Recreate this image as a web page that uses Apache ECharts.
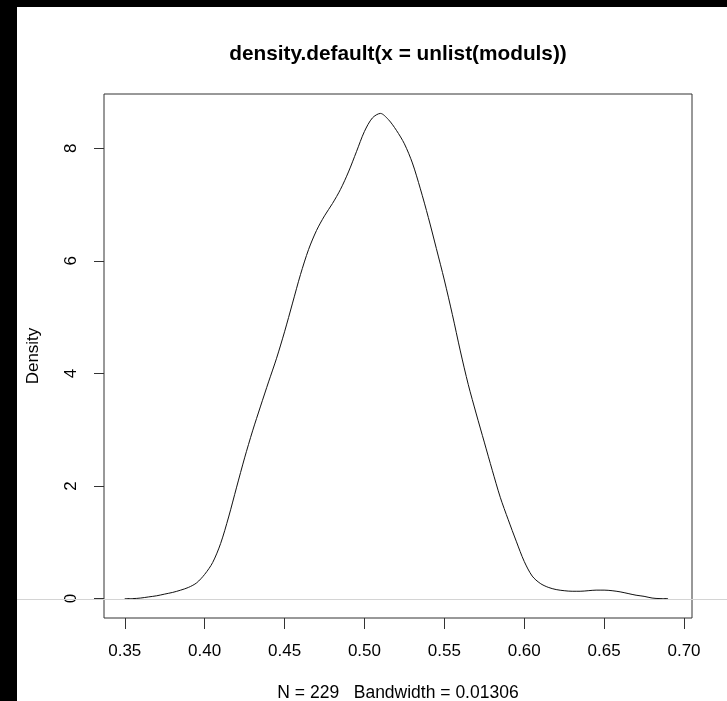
<!DOCTYPE html>
<html>
<head>
<meta charset="utf-8">
<title>density.default(x = unlist(moduls))</title>
<script src="https://cdn.jsdelivr.net/npm/echarts@6/dist/echarts.min.js"></script>
<style>
  html, body { margin: 0; padding: 0; background: #fff; }
  #main { width: 727px; height: 701px; }
</style>
</head>
<body>
<div id="main"></div>
<script>
// density estimate (x = modulus, y = density)
var xs = [0.350, 0.355, 0.360, 0.365, 0.370, 0.375, 0.380, 0.385, 0.390, 0.395,
          0.400, 0.405, 0.410, 0.415, 0.420, 0.425, 0.430, 0.435, 0.440, 0.445,
          0.450, 0.455, 0.460, 0.465, 0.470, 0.475, 0.480, 0.485, 0.490, 0.495,
          0.500, 0.505, 0.510, 0.515, 0.520, 0.525, 0.530, 0.535, 0.540, 0.545,
          0.550, 0.555, 0.560, 0.565, 0.570, 0.575, 0.580, 0.585, 0.590, 0.595,
          0.600, 0.605, 0.610, 0.615, 0.620, 0.625, 0.630, 0.635, 0.640, 0.645,
          0.650, 0.655, 0.660, 0.665, 0.670, 0.675, 0.680, 0.685, 0.690];
var density = [0.00, 0.00, 0.01, 0.03, 0.05, 0.08, 0.11, 0.15, 0.20, 0.28,
               0.43, 0.64, 0.98, 1.45, 1.98, 2.50, 2.98, 3.42, 3.85, 4.27,
               4.74, 5.25, 5.76, 6.20, 6.54, 6.80, 7.02, 7.27, 7.58, 7.94,
               8.30, 8.54, 8.62, 8.51, 8.32, 8.08, 7.74, 7.28, 6.77, 6.22,
               5.66, 5.05, 4.40, 3.80, 3.28, 2.78, 2.28, 1.80, 1.40, 1.02,
               0.66, 0.40, 0.27, 0.20, 0.16, 0.14, 0.13, 0.13, 0.14, 0.15,
               0.15, 0.14, 0.12, 0.09, 0.06, 0.04, 0.01, 0.00, 0.00];
var xTicks = [0.35, 0.40, 0.45, 0.50, 0.55, 0.60, 0.65, 0.70];
var yTicks = [0, 2, 4, 6, 8];

var titleText = 'density.default(x = unlist(moduls))';
var subText = 'N = 229   Bandwidth = 0.01306';

var dom = document.getElementById('main');
var myChart = echarts.init(dom, null, { renderer: 'canvas' });

var points = xs.map(function (x, i) { return [x, density[i]]; });
var font = 'Liberation Sans, Arial, sans-serif';

var option = {
    backgroundColor: '#ffffff',
    animation: false,
    title: {
        text: titleText,
        left: 398,
        top: 44,
        textAlign: 'center',
        padding: 0,
        textStyle: { fontFamily: font, fontSize: 20.8, fontWeight: 'bold', color: '#000' }
    },
    grid: {
        left: 104,
        right: 35,
        top: 94,
        bottom: 83,
        outerBoundsMode: 'none',
        containLabel: false,
        show: true,
        borderColor: '#333',
        borderWidth: 1,
        backgroundColor: 'transparent'
    },
    xAxis: {
        type: 'value',
        min: 0.337,
        max: 0.705,
        name: subText,
        nameLocation: 'middle',
        nameGap: 66,
        nameTextStyle: { fontFamily: font, fontSize: 17.5, color: '#000' },
        axisLine: { show: false, onZero: false },
        splitLine: { show: false },
        axisTick: {
            show: true, length: 11, inside: false,
            customValues: xTicks,
            lineStyle: { color: '#333', width: 1 }
        },
        axisLabel: {
            customValues: xTicks,
            margin: 25,
            fontFamily: font, fontSize: 17, color: '#000',
            formatter: function (v) { return v.toFixed(2); }
        }
    },
    yAxis: {
        type: 'value',
        min: -0.345,
        max: 8.965,
        name: 'Density',
        nameLocation: 'middle',
        nameRotate: 90,
        nameGap: 62,
        nameTextStyle: { fontFamily: font, fontSize: 17, color: '#000' },
        axisLine: { show: false, onZero: false },
        splitLine: { show: false },
        axisTick: {
            show: true, length: 10, inside: false,
            customValues: yTicks,
            lineStyle: { color: '#333', width: 1 }
        },
        axisLabel: {
            customValues: yTicks,
            rotate: 90,
            margin: 24,
            fontFamily: font, fontSize: 17, color: '#000'
        }
    },
    series: [
        {
            name: 'density',
            type: 'line',
            data: points,
            smooth: 0.3,
            showSymbol: false,
            lineStyle: { color: '#111', width: 1 }
        }
    ]
};

myChart.setOption(option);

// screenshot frame: black bands and the light grey line at density 0
var y0 = Math.round(myChart.convertToPixel({ yAxisIndex: 0 }, 0)) + 0.5;
myChart.setOption({
    graphic: [
        { type: 'rect', shape: { x: 0, y: 0, width: 17, height: 701 }, style: { fill: '#000' }, z: 100 },
        { type: 'rect', shape: { x: 0, y: 0, width: 727, height: 7 }, style: { fill: '#000' }, z: 100 },
        { type: 'line', shape: { x1: 17, y1: y0, x2: 727, y2: y0 }, style: { stroke: '#d4d4d4', lineWidth: 1 }, z: 100 }
    ]
});

window.addEventListener('resize', myChart.resize);
</script>
</body>
</html>
